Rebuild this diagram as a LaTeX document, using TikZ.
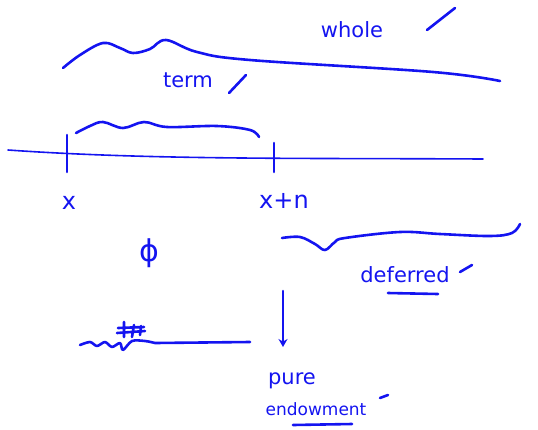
\documentclass[tikz,border=0pt]{standalone}
\usepackage{fontspec}
\setmainfont{DejaVu Sans}
\usetikzlibrary{arrows.meta}
\definecolor{penblue}{HTML}{1414F0}

\begin{document}
\begin{tikzpicture}[
    x=1pt,y=-1pt,
    >={Stealth[length=8pt,width=9pt]},
    ink/.style={penblue,line width=2.6pt,line cap=round,line join=round},
    thinink/.style={penblue,line width=1.6pt,line cap=round},
    word/.style={text=penblue,font=\fontsize{21}{24}\selectfont,inner sep=0pt},
    agelabel/.style={text=penblue,font=\fontsize{24}{28}\selectfont,inner sep=0pt},
  ]
    \useasboundingbox (0,0) rectangle (538,429);

    % time line with the two ages
    \coordinate (lineL) at (8,150);
    \coordinate (lineR) at (483,159);
    \draw[thinink] (lineL) .. controls (150,160) and (300,158) .. (lineR);
    \coordinate (tickx) at (67,135);
    \coordinate (tickxn) at (274,143);
    \draw[ink] (tickx) -- ++(0,37);
    \draw[ink] (tickxn) -- ++(0,29);
    \node[agelabel] (agex) at (69,203) {x};
    \node[agelabel] (agexn) at (284,201) {x+n};

    % braces over the line
    \draw[ink] plot[smooth,tension=0.6] coordinates {(63,68) (80,55) (103,43) (120,48) (133,53) (150,49) (166,40) (197,52) (250,60) (433,72) (500,81)};
    \node[word] (whole) at (352,30) {whole};
    \draw[ink] (427,30) -- (455,8);
    \draw[ink] plot[smooth,tension=0.6] coordinates {(76,133) (90,126) (103,122) (123,128) (144,122) (167,127) (217,126) (250,130) (259,137)};
    \node[word] (term) at (188,80) {term};
    \draw[ink] (229,93) -- (246,75);

    % after x+n
    \node[text=penblue,font=\fontsize{30}{34}\selectfont,inner sep=0pt] (phi) at (149,253) {ϕ};
    \draw[ink] plot[smooth,tension=0.6] coordinates {(282,238) (300,237) (315,244) (325,250) (335,242) (345,238) (400,232) (440,234) (490,236) (512,233) (520,224)};
    \node[word] (deferred) at (405,275) {deferred};
    \draw[ink] (388,293) -- (438,294);
    \draw[ink] (460,272) -- (472,265);

    % crossed out line
    \draw[ink] plot[smooth,tension=0.5] coordinates {(80,345) (90,342) (97,346) (105,342) (112,347) (120,343) (123,350) (132,341) (145,341) (155,343)} -- (250,342);
    \draw[ink] (117,333) -- (145,331) (118,328) -- (144,327) (124,322) -- (124,337) (134,325) -- (132,337) (141,326) -- (140,335);

    % arrow to pure endowment
    \coordinate (arrtop) at (283,291);
    \coordinate (arrtip) at (283,347);
    \draw[ink,->] (arrtop) -- (arrtip);
    \node[word] (pure) at (292,381) {pure};
    \node[text=penblue,font=\fontsize{17}{20}\selectfont,inner sep=0pt] (endow) at (316,409) {endowment};
    \draw[ink] (293,425) -- (352,424);
    \draw[ink] (380,398) -- (388,395);
  \end{tikzpicture}
\end{document}
